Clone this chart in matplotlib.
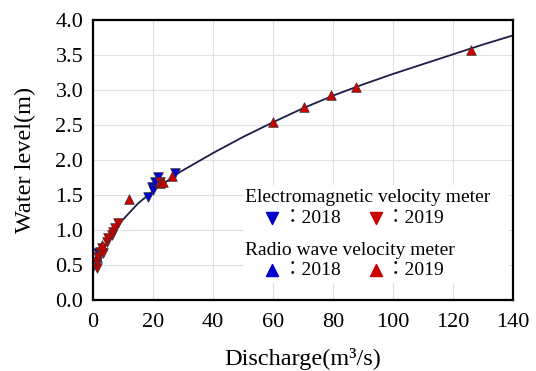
import matplotlib
matplotlib.use("Agg")
import matplotlib.pyplot as plt
from matplotlib.patches import Rectangle

plt.rcParams['font.family'] = ['Liberation Serif', 'Noto Sans CJK JP', 'DejaVu Sans']

# rating curve
curve_q = [0, 1, 2, 5, 10, 15, 20, 29, 40, 50, 60, 70, 80, 90, 100, 110, 120, 130, 140]
curve_h = [0.40, 0.52, 0.62, 0.86, 1.15, 1.38, 1.56, 1.83, 2.10, 2.33, 2.54, 2.74, 2.92, 3.08, 3.23, 3.37, 3.51, 3.65, 3.78]

# electromagnetic velocity meter (down triangles)
em18_q = [1.7, 18.3, 19.7, 20.0, 20.7, 21.7, 27.5]
em18_h = [0.67, 1.47, 1.61, 1.57, 1.69, 1.76, 1.82]
em19_q = [1.3, 1.3, 1.7, 2.3, 3.0, 3.3, 4.7, 5.0, 6.3, 6.7, 7.3, 8.3, 22.3]
em19_h = [0.46, 0.55, 0.61, 0.69, 0.74, 0.67, 0.83, 0.89, 0.93, 0.97, 1.03, 1.10, 1.69]

# radio wave velocity meter (up triangles)
rw18_q = [1.5]
rw18_h = [0.62]
rw19_q = [3.0, 12.1, 22.3, 23.3, 26.3, 60.0, 70.3, 79.3, 87.7, 126.0]
rw19_h = [0.79, 1.45, 1.67, 1.69, 1.77, 2.54, 2.76, 2.93, 3.05, 3.57]

blue = '#0000CC'
red = '#CC0000'

fig = plt.figure(figsize=(5.36, 3.71), dpi=100)
ax = fig.add_axes([0.1735, 0.191, 0.7835, 0.755])

ax.plot(curve_q, curve_h, color='#1c1c4c', lw=1.3, zorder=3)
mk = dict(s=48, edgecolors='#333333', linewidths=0.5, zorder=4)
ax.scatter(em18_q, em18_h, marker='v', color=blue, **mk)
ax.scatter(rw18_q, rw18_h, marker='^', color=blue, **mk)
ax.scatter(em19_q, em19_h, marker='v', color=red, **mk)
ax.scatter(rw19_q, rw19_h, marker='^', color=red, **mk)

ax.set_xlim(0, 140)
ax.set_ylim(0, 4.0)
ax.set_xticks(range(0, 141, 20))
ax.set_yticks([i * 0.5 for i in range(9)])
ax.set_yticklabels([f"{i * 0.5:.1f}" for i in range(9)])
ax.grid(color='#e0e0e0', lw=0.8, zorder=0)
ax.set_axisbelow(True)
ax.tick_params(length=0, labelsize=16)
ax.tick_params(axis='x', pad=9)
ax.tick_params(axis='y', pad=7)
for s in ax.spines.values():
    s.set_linewidth(1.6)
    s.set_zorder(6)

ax.set_xlabel("Discharge(m³/s)", fontsize=17.5, labelpad=12)
ax.set_ylabel("Water level(m)", fontsize=17.5, labelpad=14)

# legend block drawn by hand
ax.add_patch(Rectangle((0.36, 0.06), 0.63, 0.35, transform=ax.transAxes,
                       facecolor='white', edgecolor='none', zorder=2))
tf = ax.transAxes
ax.text(0.362, 0.368, "Electromagnetic velocity meter", transform=tf,
        fontsize=14, va='center', zorder=5)
ax.text(0.362, 0.179, "Radio wave velocity meter", transform=tf,
        fontsize=14, va='center', zorder=5)
for y, m in [(0.293, 'v'), (0.107, '^')]:
    ax.scatter([0.426], [y], marker=m, color=blue, s=75, transform=tf, zorder=5, clip_on=False)
    ax.text(0.452, y, "：2018", transform=tf, fontsize=14, va='center', zorder=5)
    ax.scatter([0.674], [y], marker=m, color=red, s=75, transform=tf, zorder=5, clip_on=False)
    ax.text(0.698, y, "：2019", transform=tf, fontsize=14, va='center', zorder=5)

fig.savefig("out.png", dpi=100)
